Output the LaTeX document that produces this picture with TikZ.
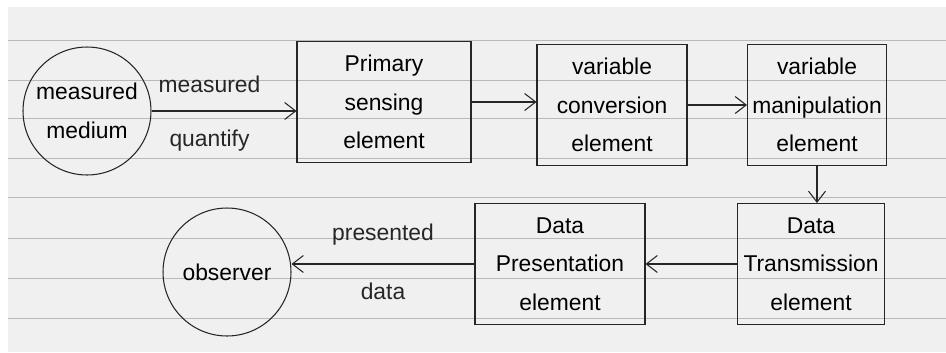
\documentclass[tikz,border=0pt]{standalone}
\usepackage{fontspec}
\setmainfont{Liberation Sans}
\usepackage{tikz}
\usepackage{xcolor}
\usetikzlibrary{arrows.meta}

\begin{document}
\begin{tikzpicture}[
    x=0.02cm, y=-0.02cm,
    elem/.style={
        rectangle,
        draw=black!85,
        semithick,
        minimum height=2.42cm,
        align=center,
        inner sep=0pt,
        font=\fontsize{13}{22}\selectfont
    },
    medium/.style={
        circle,
        draw=black!85,
        semithick,
        minimum size=2.56cm,
        align=center,
        inner sep=0pt,
        font=\fontsize{13}{22}\selectfont
    },
    arrow/.style={-{Straight Barb[length=2.2mm,width=3.4mm]}, semithick, black!85},
    lbl/.style={font=\fontsize{13}{15}\selectfont}
]

\useasboundingbox (0,0) rectangle (946,352);
\fill[white] (0,0) rectangle (946,352);
\fill[gray!12] (8,7) rectangle (946,352);
\foreach \y in {40,80,118,158,197,238,278,318}
    \draw[gray!55, thin] (8,\y) -- (946,\y);

\node[medium] (source) at (87,111) {measured\\medium};
\node[elem, minimum width=3.48cm] (primary) at (384,102) {Primary\\sensing\\element};
\node[elem, minimum width=3.0cm] (conv) at (612,105) {variable\\conversion\\element};
\node[elem, minimum width=2.78cm] (manip) at (817,105) {variable\\manipulation\\element};

\node[elem, minimum width=2.94cm] (trans) at (811,264) {Data\\Transmission\\element};
\node[elem, minimum width=3.4cm] (pres) at (560,264) {Data\\Presentation\\element};
\node[medium] (observer) at (227,272) {observer};

\draw[arrow] (source.east) -- (source.east -| primary.west)
    node[lbl, pos=0.4, above=7pt] (qty1) {measured}
    node[lbl, pos=0.4, below=7pt] (qty2) {quantify};
\draw[arrow] (primary.east) -- (primary.east -| conv.west);
\draw[arrow] (conv.east) -- (conv.east -| manip.west);
\draw[arrow] (manip.south) -- (manip.south |- trans.north);
\draw[arrow] (trans.west) -- (pres.east);
\draw[arrow] (pres.west) -- (pres.west -| observer.east)
    node[lbl, midway, above=7pt] (out1) {presented}
    node[lbl, midway, below=7pt] (out2) {data};

\end{tikzpicture}
\end{document}
